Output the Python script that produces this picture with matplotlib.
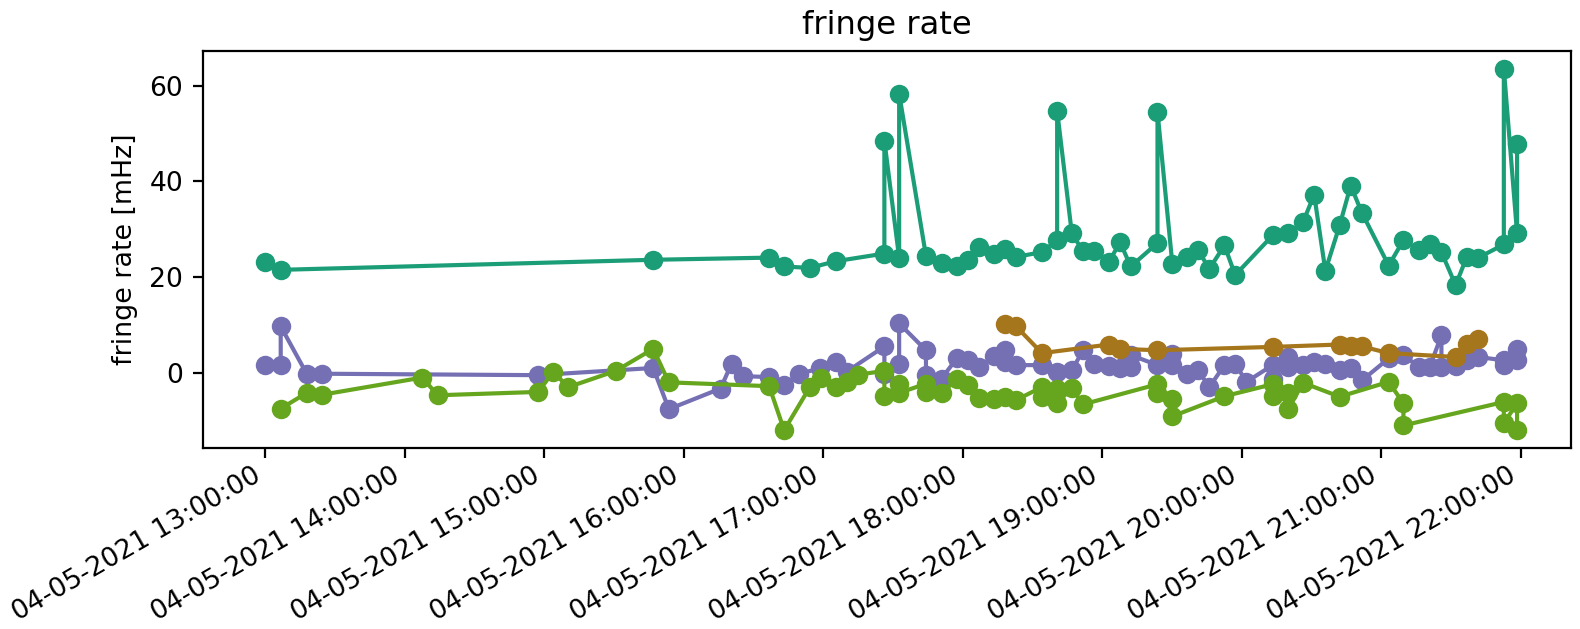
import pandas as pd
import matplotlib
matplotlib.use("Agg")
import matplotlib.pyplot as plt
import matplotlib.dates as mdates

day = "2021-05-04 "

# teal baseline
teal_t = ["13:00:00", "13:06:45", "15:46:54", "16:36:46", "16:43:13", "16:54:16", "17:05:26",
          "17:26:19", "17:26:19", "17:32:40", "17:32:40", "17:44:12", "17:50:55", "17:57:26",
          "18:02:13", "18:07:01", "18:13:20", "18:18:09", "18:22:56", "18:34:04", "18:40:36",
          "18:40:36", "18:46:55", "18:51:44", "18:56:30", "19:02:52", "19:07:38", "19:12:14",
          "19:23:45", "19:23:45", "19:30:07", "19:36:26", "19:41:15", "19:46:01", "19:52:33",
          "19:57:09", "20:13:16", "20:20:00", "20:26:21", "20:31:07", "20:35:56", "20:42:04",
          "20:46:50", "20:51:39", "21:03:10", "21:09:30", "21:16:12", "21:20:48", "21:25:50",
          "21:31:56", "21:36:45", "21:41:34", "21:52:40", "21:52:40", "21:58:22", "21:58:22"]
teal_v = [23.1, 21.5, 23.6, 24.05, 22.2, 21.9, 23.3,
          24.9, 48.5, 24.0, 58.3, 24.4, 23.0, 22.3,
          23.5, 26.3, 24.9, 25.8, 24.2, 25.2, 27.7,
          54.7, 29.1, 25.4, 25.4, 23.1, 27.3, 22.2,
          27.1, 54.5, 22.8, 24.2, 25.6, 21.7, 26.6,
          20.4, 28.7, 29.1, 31.5, 37.2, 21.3, 30.8,
          39.1, 33.4, 22.4, 27.7, 25.6, 26.8, 25.2,
          18.3, 24.2, 24.0, 26.8, 63.5, 29.1, 47.8]

# purple baseline
purple_t = ["13:00:00", "13:06:45", "13:06:45", "13:17:55", "13:24:22", "14:57:13", "15:46:54",
            "15:53:39", "16:15:52", "16:20:36", "16:25:20", "16:36:46", "16:43:13", "16:49:40",
            "16:58:34", "17:05:26", "17:10:02", "17:26:19", "17:26:19", "17:32:40", "17:32:40",
            "17:44:12", "17:44:12", "17:50:55", "17:57:26", "18:02:13", "18:07:01", "18:13:20",
            "18:18:09", "18:18:09", "18:22:56", "18:34:04", "18:40:36", "18:46:55", "18:51:44",
            "18:56:30", "19:02:52", "19:07:38", "19:12:14", "19:12:14", "19:23:45", "19:30:07",
            "19:30:07", "19:36:26", "19:41:15", "19:46:01", "19:52:33", "19:57:09", "20:02:00",
            "20:13:16", "20:13:16", "20:20:00", "20:20:00", "20:26:21", "20:31:07", "20:35:56",
            "20:42:04", "20:46:50", "20:51:39", "21:03:10", "21:09:30", "21:16:12", "21:20:48",
            "21:25:50", "21:25:50", "21:31:56", "21:36:45", "21:41:34", "21:52:40", "21:52:40",
            "21:58:22", "21:58:22"]
purple_v = [1.7, 1.7, 9.7, -0.2, -0.2, -0.5, 1.0,
            -7.6, -3.3, 1.9, -0.7, -0.9, -2.6, -0.2,
            0.9, 2.3, 0.2, 5.5, -0.3, 1.9, 10.3,
            4.7, -0.5, -1.2, 3.0, 2.6, 1.2, 3.4,
            4.7, 2.3, 1.6, 1.6, 0.2, 0.5, 4.7,
            1.9, 1.4, 0.9, 1.2, 3.7, 1.6, 4.0,
            1.6, -0.2, 0.5, -3.0, 1.6, 1.9, -1.9,
            1.6, -1.2, 3.3, 1.2, 1.6, 2.3, 1.9,
            0.5, 0.9, -1.6, 3.0, 3.7, 1.2, 1.2,
            7.8, 1.2, 1.4, 2.6, 3.3, 2.6, 1.6,
            5.0, 2.6]

# green baseline
green_t = ["13:06:45", "13:17:55", "13:24:22", "14:07:37", "14:14:14", "14:57:28", "15:03:55",
           "15:10:22", "15:30:52", "15:46:54", "15:53:39", "16:36:46", "16:43:13", "16:54:16",
           "16:58:59", "17:05:26", "17:10:02", "17:15:02", "17:26:19", "17:26:19", "17:32:40",
           "17:32:40", "17:44:12", "17:44:12", "17:50:55", "17:57:26", "18:02:13", "18:07:01",
           "18:13:20", "18:18:09", "18:22:56", "18:34:04", "18:34:04", "18:40:36", "18:40:36",
           "18:46:55", "18:51:44", "19:23:45", "19:23:45", "19:30:07", "19:30:07", "19:52:33",
           "20:13:16", "20:13:16", "20:20:00", "20:20:00", "20:26:21", "20:42:04", "21:03:10",
           "21:09:30", "21:09:30", "21:52:40", "21:52:40", "21:58:22", "21:58:22"]
green_v = [-7.5, -4.2, -4.6, -1.0, -4.7, -4.0, 0.2,
           -3.0, 0.4, 5.0, -2.0, -2.8, -12.0, -3.0,
           -1.1, -3.0, -1.9, -0.4, 0.4, -4.9, -2.4,
           -4.2, -2.3, -4.0, -4.2, -1.4, -2.6, -5.3,
           -5.4, -5.0, -5.7, -3.0, -5.0, -3.3, -6.3,
           -3.2, -6.6, -2.4, -4.3, -5.4, -9.1, -4.9,
           -2.4, -4.9, -4.3, -7.5, -2.1, -5.0, -1.9,
           -6.4, -11.0, -6.1, -10.5, -6.4, -12.0]

# brown baseline
brown_t = ["18:18:09", "18:22:56", "18:34:04", "19:02:52", "19:07:38", "19:23:45", "20:13:16",
           "20:42:04", "20:46:50", "20:51:39", "21:03:10", "21:31:56", "21:36:45", "21:41:34"]
brown_v = [10.1, 9.7, 4.1, 5.9, 5.0, 4.7, 5.4,
           5.9, 5.5, 5.5, 4.1, 3.3, 6.1, 7.0]

series = [
    (teal_t, teal_v, "#1b9e77"),
    (purple_t, purple_v, "#7570b3"),
    (green_t, green_v, "#66a61e"),
    (brown_t, brown_v, "#a6761d"),
]

fig = plt.figure(figsize=(7.9, 3.145), dpi=200)
ax = fig.add_axes([0.1283, 0.2873, 0.8663, 0.6321])

for times, vals, col in series:
    tt = pd.to_datetime([day + s for s in times])
    ax.plot(tt, vals, "o-", color=col)

ax.set_xlim(pd.Timestamp(day + "12:33:13"), pd.Timestamp(day + "22:21:45"))
ax.set_title("fringe rate", fontsize=11.6)
ax.set_ylabel("fringe rate [mHz]", fontsize=9.7)
ax.xaxis.set_major_locator(mdates.HourLocator())
ax.xaxis.set_major_formatter(mdates.DateFormatter("%d-%m-%Y %H:%M:%S"))
ax.tick_params(labelsize=9.6)
ax.tick_params(axis="x", pad=1.5)
plt.setp(ax.get_xticklabels(), rotation=30, ha="right")

fig.savefig("out.png", dpi=200)
